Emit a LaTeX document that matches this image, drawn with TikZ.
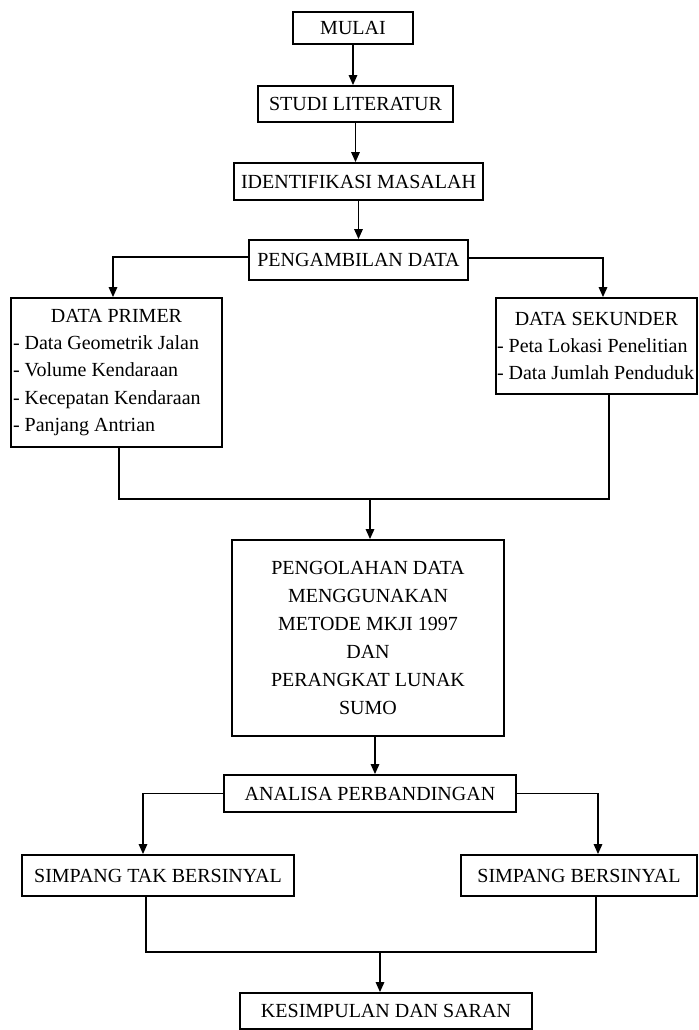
\documentclass[tikz,border=0pt]{standalone}
\usepackage{fontspec}
\setmainfont{Liberation Serif}
\usetikzlibrary{arrows.meta, calc}

\begin{document}
\begin{tikzpicture}[x=0.5pt, y=-0.5pt,
  kotak/.style={draw, line width=0.9pt, inner sep=0pt, align=center,
                font=\fontsize{10}{14}\selectfont},
  panah/.style={line width=0.9pt, -{Triangle[length=5pt, width=4.2pt]}},
  garis/.style={line width=0.9pt}]

\useasboundingbox (0,0) rectangle (698,1030);

% === Tahap awal ===
\node[kotak, minimum width=60pt, minimum height=16pt] (mulai) at (353,28) {MULAI};
\node[kotak, minimum width=97.5pt, minimum height=18pt] (studi) at (355.5,104) {STUDI LITERATUR};
\node[kotak, minimum width=124.5pt, minimum height=18.5pt] (ident) at (358.5,181.5) {IDENTIFIKASI MASALAH};
\node[kotak, minimum width=109.5pt, minimum height=20pt] (ambil) at (358.5,260) {PENGAMBILAN DATA};

% === Data primer dan sekunder ===
\node[kotak, align=flush left, inner xsep=1pt, text width=103.5pt, minimum height=74.5pt,
      font=\fontsize{10}{13.6}\selectfont] (primer) at (116.5,372.5)
     {\makebox[\linewidth]{DATA PRIMER}\\
      \mbox{- Data Geometrik Jalan}\\\mbox{- Volume Kendaraan}\\
      \mbox{- Kecepatan Kendaraan}\\\mbox{- Panjang Antrian}};
\node[kotak, align=flush left, inner xsep=0.5pt, text width=99.5pt, minimum height=48pt,
      font=\fontsize{10}{13.5}\selectfont] (sekunder) at (596.5,346)
     {\makebox[\linewidth]{DATA SEKUNDER}\\
      \mbox{- Peta Lokasi Penelitian}\\\mbox{- Data Jumlah Penduduk}};

% === Pengolahan dan analisa ===
\node[kotak, minimum width=136pt, minimum height=98pt] (olah) at (368,638)
     {PENGOLAHAN DATA\\MENGGUNAKAN\\METODE MKJI 1997\\DAN\\PERANGKAT LUNAK\\SUMO};
\node[kotak, minimum width=146pt, minimum height=18.5pt] (analisa) at (370,793.5) {ANALISA PERBANDINGAN};

% === Jenis simpang ===
\node[kotak, minimum width=136pt, minimum height=20.5pt] (tak) at (158,875.5) {SIMPANG TAK BERSINYAL};
\node[kotak, minimum width=118pt, minimum height=20.5pt] (sinyal) at (579,875.5) {SIMPANG BERSINYAL};

% === Akhir ===
\node[kotak, minimum width=146pt, minimum height=18pt] (simpul) at (386,1011) {KESIMPULAN DAN SARAN};

% Panah alur
\draw[panah] (mulai.south) -- (mulai.south |- studi.north);
\draw[panah] (studi.south) -- (studi.south |- ident.north);
\draw[panah] (ident.south) -- (ident.south |- ambil.north);
\draw[panah] ([yshift=1.5pt]ambil.west) -| ([xshift=-1.75pt]primer.north);
\draw[panah] ([yshift=1pt]ambil.east) -| ([xshift=3.25pt]sekunder.north);

\coordinate (gabung1) at (370,499);
\draw[garis] ([xshift=1.25pt]primer.south) |- (gabung1) -| ([xshift=6.25pt]sekunder.south);
\draw[panah] (gabung1) -- (gabung1 |- olah.north);
\draw[panah] ([xshift=3.5pt]olah.south) -- ([xshift=3.5pt]olah.south |- analisa.north);

\draw[panah] (analisa.west) -| ([xshift=-7.5pt]tak.north);
\draw[panah] (analisa.east) -| ([xshift=9.5pt]sinyal.north);

\coordinate (gabung2) at (380,952);
\draw[garis] ([xshift=-6pt]tak.south) |- (gabung2) -| ([xshift=8.5pt]sinyal.south);
\draw[panah] (gabung2) -- (gabung2 |- simpul.north);

\end{tikzpicture}
\end{document}
